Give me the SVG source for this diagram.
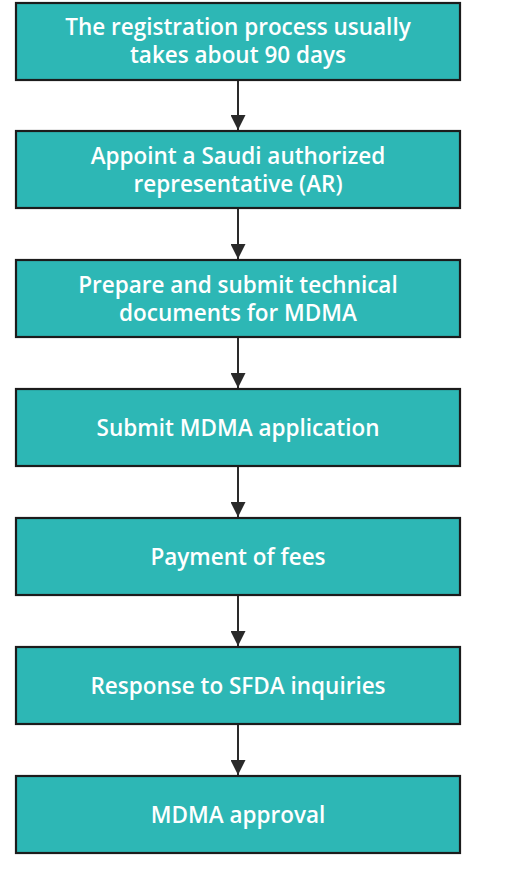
<svg xmlns="http://www.w3.org/2000/svg" width="522" height="884" viewBox="0 0 522 884">
<style>
.box{fill:#2db7b5;stroke:#1c1c1c;stroke-width:2.2}
.t{font-family:"Open Sans","Noto Sans",sans-serif;font-weight:600;font-size:22.5px;fill:#ffffff;text-anchor:middle}
.c{stroke:#2a2a2a;stroke-width:2;fill:none}
</style>
<defs>
<marker id="ah" viewBox="0 0 10 10" refX="10" refY="5" markerWidth="7.5" markerHeight="7.5" markerUnits="strokeWidth" orient="auto">
<path d="M0,0 L10,5 L0,10 z" fill="#2a2a2a"/>
</marker>
</defs>
<rect width="522" height="884" fill="#ffffff"/>
<g id="connectors">
<line class="c" x1="238" y1="80" x2="238" y2="130" marker-end="url(#ah)"/>
<line class="c" x1="238" y1="208" x2="238" y2="259" marker-end="url(#ah)"/>
<line class="c" x1="238" y1="337" x2="238" y2="388" marker-end="url(#ah)"/>
<line class="c" x1="238" y1="466" x2="238" y2="517" marker-end="url(#ah)"/>
<line class="c" x1="238" y1="595" x2="238" y2="646" marker-end="url(#ah)"/>
<line class="c" x1="238" y1="724" x2="238" y2="775" marker-end="url(#ah)"/>
</g>
<g id="n1"><rect class="box" x="16" y="3" width="444" height="77"/>
<text class="t" x="238" y="35">The registration process usually</text>
<text class="t" x="238" y="63">takes about 90 days</text></g>
<g id="n2"><rect class="box" x="16" y="131" width="444" height="77"/>
<text class="t" x="238" y="164">Appoint a Saudi authorized</text>
<text class="t" x="238" y="192">representative (AR)</text></g>
<g id="n3"><rect class="box" x="16" y="260" width="444" height="77"/>
<text class="t" x="238" y="293">Prepare and submit technical</text>
<text class="t" x="238" y="321">documents for MDMA</text></g>
<g id="n4"><rect class="box" x="16" y="389" width="444" height="77"/>
<text class="t" x="238" y="436">Submit MDMA application</text></g>
<g id="n5"><rect class="box" x="16" y="518" width="444" height="77"/>
<text class="t" x="238" y="565">Payment of fees</text></g>
<g id="n6"><rect class="box" x="16" y="647" width="444" height="77"/>
<text class="t" x="238" y="694">Response to SFDA inquiries</text></g>
<g id="n7"><rect class="box" x="16" y="776" width="444" height="77"/>
<text class="t" x="238" y="823">MDMA approval</text></g>
</svg>
